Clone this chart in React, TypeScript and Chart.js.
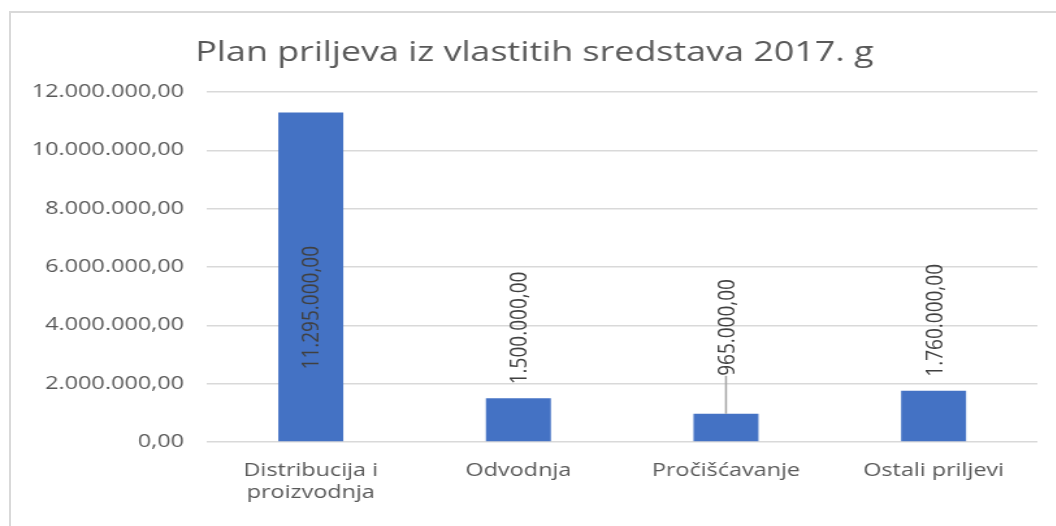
import { useEffect, useRef } from 'react';
import { Chart, registerables } from 'chart.js';

Chart.register(...registerables);

const titleText = 'Plan priljeva iz vlastitih sredstava 2017. g';
const categories: (string | string[])[] = [['Distribucija i', 'proizvodnja'], 'Odvodnja', 'Pročišćavanje', 'Ostali priljevi'];
const values = [11295000, 1500000, 965000, 1760000];
const yTicks = [0, 2000000, 4000000, 6000000, 8000000, 10000000, 12000000];

// label placement (pixels relative to the bar top; positive = downwards)
const labelOffsets = [257, -14, -38, -14];
const leaderLines = [false, false, true, false];

const fmt = (v: number) => {
  const [intPart, dec] = v.toFixed(2).split('.');
  const withDots = intPart.replace(/\B(?=(\d{3})+(?!\d))/g, '.');
  return withDots + ',' + dec;
};

const SCALE_X = 1.3;
const FONT = '"Open Sans", sans-serif';

const labelPlugin = {
  id: 'rotLabels',
  afterDatasetsDraw(chart: any) {
    const meta = chart.getDatasetMeta(0);
    const ctx = chart.ctx as CanvasRenderingContext2D;
    meta.data.forEach((bar: any, i: number) => {
      const x = bar.x;
      const top = bar.y;
      const start = top + labelOffsets[i];
      if (leaderLines[i]) {
        ctx.save();
        ctx.strokeStyle = '#a6a6a6';
        ctx.lineWidth = 1.5;
        ctx.beginPath();
        ctx.moveTo(x, top);
        ctx.lineTo(x, start);
        ctx.stroke();
        ctx.restore();
      }
      ctx.save();
      ctx.translate(x + 1, start);
      ctx.rotate(-Math.PI / 2);
      ctx.font = `19px ${FONT}`;
      ctx.fillStyle = '#404040';
      ctx.textAlign = 'left';
      ctx.textBaseline = 'middle';
      ctx.fillText(fmt(values[i]), 0, 0);
      ctx.restore();
    });
  },
};

export default function App() {
  const ref = useRef<HTMLCanvasElement>(null);

  useEffect(() => {
    if (!ref.current) return;
    const chart = new Chart(ref.current, {
      type: 'bar',
      data: {
        labels: categories,
        datasets: [
          {
            data: values,
            backgroundColor: '#4472c4',
            borderWidth: 0,
            barPercentage: 0.313,
            categoryPercentage: 1,
          },
        ],
      },
      options: {
        animation: false,
        responsive: true,
        maintainAspectRatio: false,
        layout: { padding: { left: 24.2, right: 14.3, top: 0, bottom: 12.8 } },
        plugins: {
          legend: { display: false },
          tooltip: { enabled: false },
          title: {
            display: true,
            text: titleText,
            color: '#595959',
            font: { family: FONT, size: 27.6, weight: 'normal', lineHeight: 1.2 },
            padding: { top: 36.5, bottom: 22.3 },
          },
        },
        scales: {
          x: {
            grid: { display: false },
            border: { display: false },
            ticks: {
              color: '#595959',
              font: { family: FONT, size: 18, lineHeight: 1.2 },
              padding: 10,
              maxRotation: 0,
              autoSkip: false,
            },
          },
          y: {
            min: 0,
            max: 12000000,
            afterBuildTicks: (scale: any) => {
              scale.ticks = yTicks.map((v) => ({ value: v }));
            },
            afterFit: (scale: any) => {
              scale.width = 135;
            },
            grid: { color: '#d9d9d9', lineWidth: 1.5, drawTicks: false, tickLength: 0 },
            border: { display: false },
            ticks: {
              color: '#595959',
              font: { family: FONT, size: 18 },
              padding: 17.7,
              callback: (v: any) => fmt(Number(v)),
            },
          },
        },
      },
      plugins: [labelPlugin],
    });
    return () => chart.destroy();
  }, []);

  return (
    <div style={{ position: 'absolute', left: 0, top: 0, width: 1056, height: 526, overflow: 'hidden', background: '#fff' }}>
      <div
        style={{
          position: 'absolute',
          left: 9,
          top: 11,
          width: 1200,
          height: 700,
          borderLeft: '2px solid #d9d9d9',
          borderTop: '2px solid #d9d9d9',
          boxSizing: 'border-box',
        }}
      />
      <div
        style={{
          position: 'absolute',
          left: 0,
          top: 0,
          width: 1056 / SCALE_X,
          height: 526,
          transform: `scaleX(${SCALE_X})`,
          transformOrigin: '0 0',
        }}
      >
        <canvas ref={ref} />
      </div>
    </div>
  );
}
